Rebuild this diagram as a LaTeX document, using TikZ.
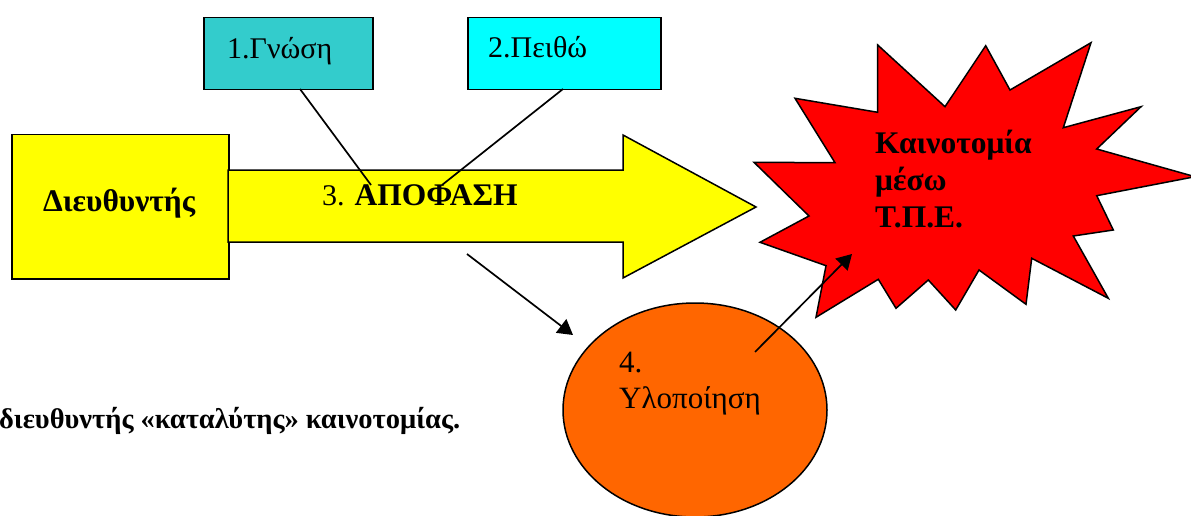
\documentclass[tikz,border=0pt]{standalone}
\usepackage{fontspec}
\setmainfont{Liberation Serif}
\usetikzlibrary{arrows.meta,shapes.geometric}
\definecolor{teal1}{HTML}{33CCCC}
\definecolor{cyan1}{HTML}{00FFFF}
\definecolor{yel}{HTML}{FFFF00}
\definecolor{redx}{HTML}{FF0000}
\definecolor{orng}{HTML}{FF6600}
\tikzset{
  shp/.style={draw=black, line width=1.5pt, line join=miter},
  lbl/.style={anchor=base west, inner sep=0pt, font=\fontsize{30}{36}\selectfont},
  blbl/.style={lbl, font=\fontsize{31.5}{37}\selectfont\bfseries},
  conn/.style={draw=black, line width=1.7pt},
  arr/.style={conn, -{Triangle[length=15pt,width=17pt]}}
}
\begin{document}
\begin{tikzpicture}[x=1pt,y=-1pt]
\useasboundingbox (0,0) rectangle (1191,516);
% director box
\node[shp, fill=yel, minimum width=217pt, minimum height=144pt, inner sep=0pt, anchor=north west] (dir) at (11,134) {};
% big arrow
\draw[shp, fill=yel] (228,170) -- (623,170) -- (623,135) -- (756,207) -- (623,278) -- (623,242) -- (228,242) -- cycle;
\coordinate (arrtip) at (756,207);
% boxes
\node[shp, fill=teal1, minimum width=169pt, minimum height=72pt, inner sep=0pt, anchor=north west] (b1) at (203,17) {};
\node[shp, fill=cyan1, minimum width=193pt, minimum height=72pt, inner sep=0pt, anchor=north west] (b2) at (467,17) {};
% star
\draw[shp, fill=redx] (877.7,45) -- (945,106.7) -- (985.7,45.7) -- (1010,90) -- (1091,42.7) -- (1063.3,127.7) -- (1141,106.7) -- (1096.7,149) -- (1195,176.7) -- (1096.7,195.7) -- (1113.3,230) -- (1073.3,236) -- (1108.3,298.3) -- (1031.7,258.3) -- (1026,304.3) -- (979,270) -- (955.7,310) -- (928.3,280) -- (896,308.3) -- (878.3,279.3) -- (816,317.3) -- (826,265.7) -- (760,242.3) -- (809,216) -- (754,162.3) -- (835,162.7) -- (795,98.3) -- (877.7,112.3) -- cycle;
% ellipse
\node[shp, ellipse, fill=orng, minimum width=264pt, minimum height=214pt, inner sep=0pt] (impl) at (695,410) {};
% texts
\node[blbl] (tdir) at (43,211) {Διευθυντής};
\node[lbl] (tdec) at (322,205) {3. {\fontsize{31.5}{37}\selectfont\bfseries ΑΠΟΦΑΣΗ}};
\node[lbl] (t1) at (227,59) {1.Γνώση};
\node[lbl] (t2) at (488,58) {2.Πειθώ};
\node[blbl, align=left] (tinn) at (875,227) {Καινοτομία\\μέσω\\Τ.Π.Ε.};
\node[lbl, align=left, font=\fontsize{31}{36}\selectfont] (t4) at (619,408) {4.\\Υλοποίηση};
\node[lbl, font=\fontsize{28.5}{33}\selectfont\bfseries] (cap) at (-1,428) {διευθυντής «καταλύτης» καινοτομίας.};
% connectors
\coordinate (c1s) at (300,89);
\coordinate (c1e) at (371,185);
\coordinate (c2s) at (563,89);
\coordinate (c2e) at (442,185);
\draw[conn] (c1s) -- (c1e);
\draw[conn] (c2s) -- (c2e);
\coordinate (a1s) at (467,254);
\coordinate (a1e) at (573,335);
\draw[arr] (a1s) -- (a1e);
\coordinate (a2s) at (755,352);
\coordinate (a2e) at (852,254);
\draw[arr] (a2s) -- (a2e);
\end{tikzpicture}
\end{document}
